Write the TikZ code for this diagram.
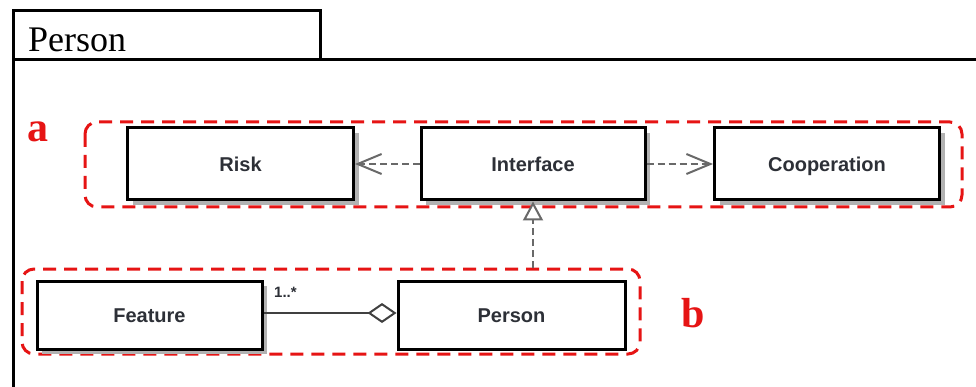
\documentclass[tikz,border=0pt]{standalone}
\usepackage{fontspec}
\setmainfont{Liberation Serif}
\setsansfont{Liberation Sans}
\usetikzlibrary{arrows.meta}
\definecolor{redbox}{RGB}{230,20,20}
\definecolor{linegray}{RGB}{105,105,105}
\definecolor{labeltext}{RGB}{45,48,55}
\tikzset{
  classbox/.style={draw=black, line width=3pt, fill=white, minimum width=#1, minimum height=72pt, inner sep=0pt,
    text height=19pt, text depth=4pt,
    font=\sffamily\bfseries\fontsize{20}{24}\selectfont, text=labeltext},
  classbox/.default=226pt,
  shadowed/.style={preaction={fill=black!30, draw=none, transform canvas={xshift=5pt,yshift=-5pt}}},
  groupbox/.style={draw=redbox, line width=3pt, dash pattern=on 13pt off 8pt, rounded corners=12pt},
  dep/.style={draw=linegray, line width=2pt, dash pattern=on 7pt off 4pt, -{Straight Barb[length=24pt,width=20pt,line width=2pt]}},
  real/.style={draw=linegray, line width=2pt, dash pattern=on 7pt off 4pt, -{Triangle[open,length=19pt,width=20pt,line width=2pt,fill=white]}},
  aggr/.style={draw=black!75, line width=1.6pt, {Diamond[open,length=29pt,width=20pt,line width=2pt,fill=white]}-},
  grouplabel/.style={text=redbox, font=\bfseries\fontsize{42}{46}\selectfont, inner sep=0pt, anchor=base west},
  frame/.style={draw=black, line width=3pt}
}
\begin{document}
\begin{tikzpicture}[x=1pt,y=-1pt]
\useasboundingbox (0,0) rectangle (976,387);
\fill[white] (0,0) rectangle (976,387);
\begin{scope}
\clip (0,0) rectangle (976,387);
% package frame
\draw[frame] (13,400) -- (13,60) -- (990,60);
\draw[frame] (13,60) -- (13,11) -- (320,11) -- (320,60);
\end{scope}
\node[anchor=base west, inner sep=0pt, font=\fontsize{36}{40}\selectfont] (pkg) at (28,52) {Person};

% group boxes
\draw[groupbox] (85,122) rectangle (962,207);
\draw[groupbox] (22,269) rectangle (640,354);
\node[grouplabel] (la) at (27,142) {a};
\node[grouplabel] (lb) at (681,327) {b};

% classes
\node[classbox=226pt, shadowed] (risk) at (240.5,164) {Risk};
\node[classbox=224pt, shadowed] (iface) at (533,164) {Interface};
\node[classbox=225pt, shadowed] (coop) at (827,164) {Cooperation};
\node[classbox=225pt, minimum height=68pt, shadowed] (feat) at (149.5,315) {Feature};
\node[classbox=227pt, minimum height=68pt] (pers) at (511.5,315) {Person};

% connectors
\draw[dep] (iface.west) -- (risk.east);
\draw[dep] (iface.east) -- (coop.west);
\coordinate (rstart) at (533,268);
\draw[real] (rstart) -- (iface.south);
\draw[aggr] ([yshift=2pt]pers.west) -- ([yshift=2pt]feat.east);
\node[anchor=south west, inner sep=0pt, font=\sffamily\bfseries\fontsize{15}{18}\selectfont, text=labeltext] (mult) at (274,298) {1..*};
\end{tikzpicture}
\end{document}
